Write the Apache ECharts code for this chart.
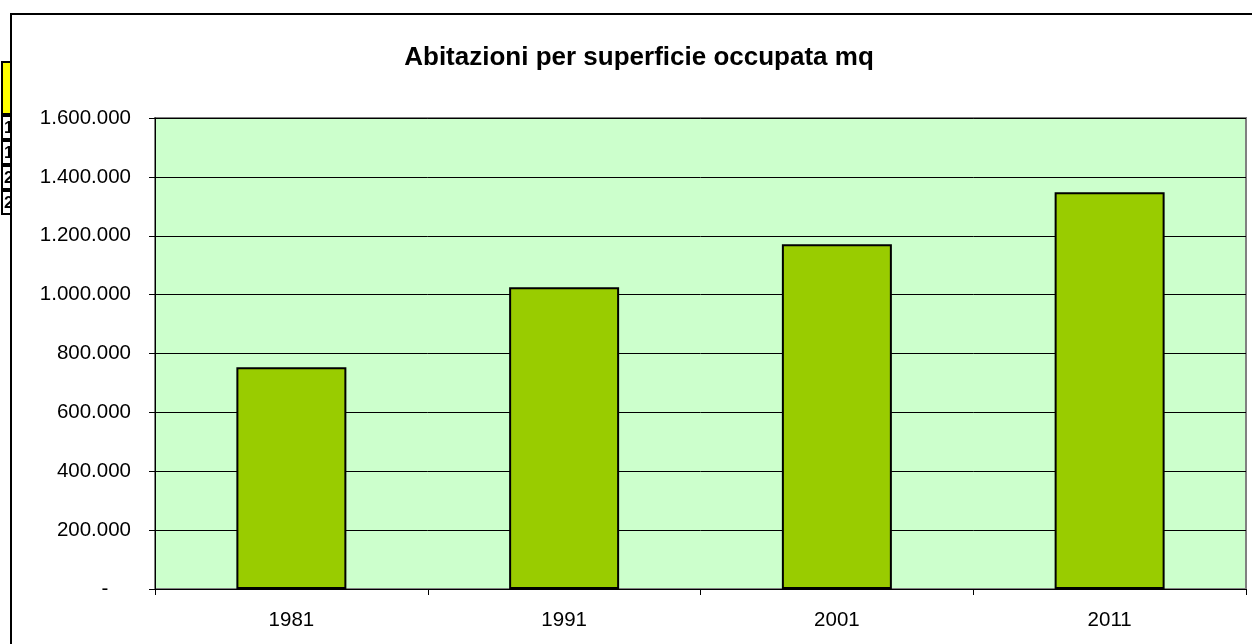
<!doctype html>
<html>
    <head>
        <meta charset="utf-8">
        <title>Abitazioni per superficie occupata mq</title>
        <style>
            html, body { margin: 0; padding: 0; background: #fff; }
            #main { width: 1252px; height: 644px; }
        </style>
    </head>
    <body>
        <div id="main"></div>
        <script src="https://cdn.jsdelivr.net/npm/echarts@6/dist/echarts.min.js"></script>
        <script>
            var years = ['1981', '1991', '2001', '2011'];
            var dwellingsArea = [753000, 1025000, 1171000, 1348000];
            var yMin = 0;
            var yMax = 1600000;
            var yStep = 200000;
            // spreadsheet cells peeking out on the left of the chart frame
            var sideCells = ['1', '1', '2', '2'];

            var font = 'Liberation Sans, Arial, sans-serif';

            function itNumber(v) {
                if (v === 0) {
                    return '-    ';
                }
                return String(v).replace(/\B(?=(\d{3})+(?!\d))/g, '.');
            }

            var graphics = [{
                type: 'rect',
                z: -30,
                shape: { x: 2, y: 62, width: 10, height: 52 },
                style: { fill: '#ffff00', stroke: '#000', lineWidth: 2 }
            }];
            sideCells.forEach(function (txt, i) {
                graphics.push({
                    type: 'rect',
                    z: -30,
                    shape: { x: 2, y: 116 + i * 25, width: 10, height: 23 },
                    style: { fill: '#fff', stroke: '#000', lineWidth: 2 }
                });
                graphics.push({
                    type: 'text',
                    z: -29,
                    x: 4,
                    y: 120 + i * 25,
                    style: { text: txt, font: 'bold 17px ' + font, fill: '#000' }
                });
            });
            // chart frame
            graphics.push({
                type: 'rect',
                z: -20,
                shape: { x: 11, y: 14, width: 1300, height: 700 },
                style: { fill: '#fff', stroke: '#000', lineWidth: 2 }
            });

            var chart = echarts.init(document.getElementById('main'), null, {
                devicePixelRatio: 1
            });

            chart.setOption({
                animation: false,
                backgroundColor: '#fff',
                graphic: graphics,
                title: {
                    text: 'Abitazioni per superficie occupata mq',
                    left: 634,
                    textAlign: 'center',
                    top: 40,
                    textStyle: {
                        fontFamily: font,
                        fontWeight: 'bold',
                        fontSize: 26,
                        color: '#000'
                    }
                },
                grid: {
                    left: 155,
                    right: 6,
                    top: 118,
                    bottom: 55,
                    show: true,
                    backgroundColor: '#ccffcc',
                    borderColor: '#808080',
                    borderWidth: 2
                },
                xAxis: {
                    type: 'category',
                    data: years,
                    boundaryGap: true,
                    axisLine: { lineStyle: { color: '#000', width: 1 } },
                    axisTick: { show: true, length: 6, inside: false, lineStyle: { color: '#000' } },
                    axisLabel: {
                        margin: 21,
                        fontFamily: font,
                        fontSize: 20.5,
                        color: '#000'
                    },
                    splitLine: { show: false }
                },
                yAxis: {
                    type: 'value',
                    min: yMin,
                    max: yMax,
                    interval: yStep,
                    axisLine: { show: true, lineStyle: { color: '#000', width: 1 } },
                    axisTick: { show: true, length: 6, lineStyle: { color: '#000' } },
                    axisLabel: {
                        margin: 24,
                        fontFamily: font,
                        fontSize: 20.5,
                        color: '#000',
                        formatter: itNumber
                    },
                    splitLine: { show: true, lineStyle: { color: '#000', width: 1 } }
                },
                series: [{
                    type: 'bar',
                    data: dwellingsArea,
                    barWidth: 110,
                    itemStyle: {
                        color: '#99cc00',
                        borderColor: '#000',
                        borderWidth: 2
                    }
                }]
            });

            window.onresize = chart.resize;
        </script>
    </body>
</html>
